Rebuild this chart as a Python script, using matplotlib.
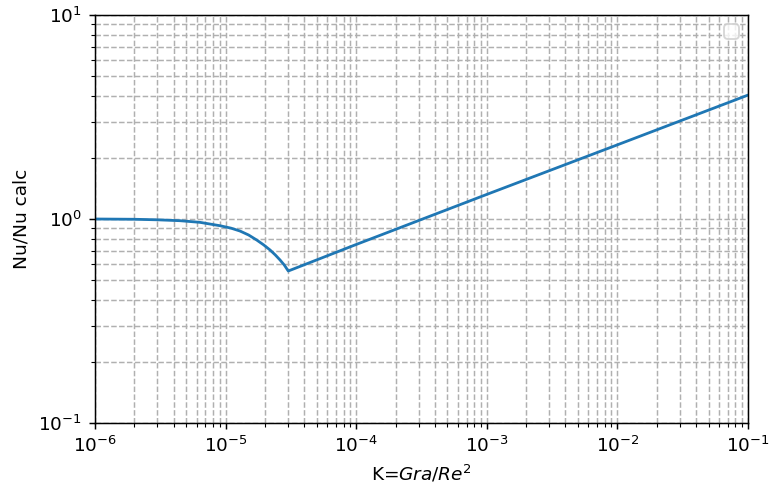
import matplotlib
matplotlib.use("Agg")
import matplotlib.pyplot as plt

K = [1e-6, 2.0e-6, 3.0e-6, 4.48e-6, 6.37e-6, 9.06e-6, 1.1e-5, 1.29e-5, 1.5e-5,
     1.73e-5, 1.95e-5, 2.19e-5, 2.4e-5, 2.61e-5, 2.82e-5, 3.02e-5,
     1e-4, 1e-3, 1e-2, 1e-1]
ratio = [1.0, 0.997, 0.991, 0.981, 0.963, 0.927, 0.902, 0.873, 0.835,
         0.789, 0.748, 0.705, 0.667, 0.630, 0.594, 0.556,
         0.75, 1.32, 2.31, 4.05]

DPI = 133.5
fig = plt.figure(figsize=(769 / DPI, 487 / DPI), dpi=DPI)
ax = fig.add_axes([0.1235, 0.1314, 0.8492, 0.8378])
ax.plot(K, ratio, color='#1f77b4', lw=1.5)
ax.set_xscale('log')
ax.set_yscale('log')
ax.set_xlim(1e-6, 1e-1)
ax.set_ylim(0.1, 10)
ax.grid(which='both', linestyle='--', color='#b0b0b0', lw=0.8)
ax.set_xlabel('K=$Gra/Re^2$')
ax.set_ylabel('Nu/Nu calc')
ax.legend()
fig.savefig('out.png', dpi=DPI)
